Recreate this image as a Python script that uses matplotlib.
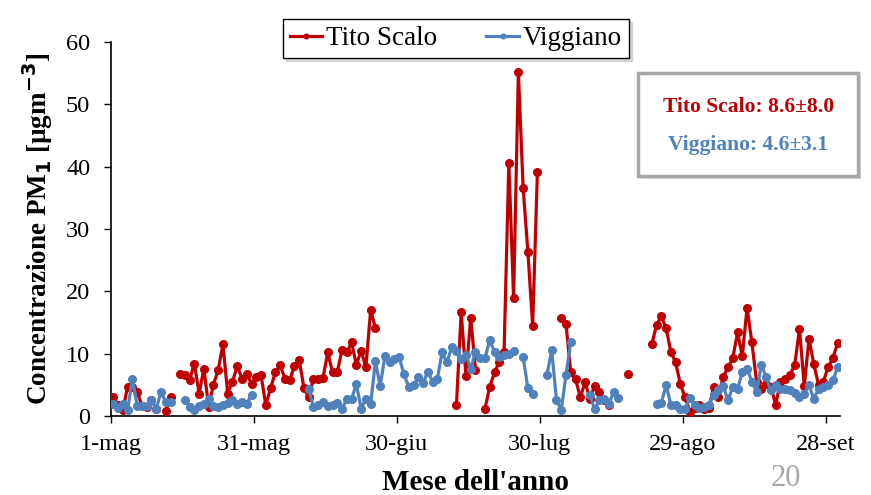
import numpy as np
import matplotlib
matplotlib.use("Agg")
import matplotlib.pyplot as plt
from matplotlib.patches import Rectangle

nan = np.nan

# daily PM1 values, 1-mag .. 30-set (153 days)
tito_scalo = [
    3.0, 1.8, 1.0, 4.7, 4.6, 3.9, 1.6, 1.5, 2.6, 1.1,
    nan, 0.8, 3.0, nan, 6.8, 6.6, 5.8, 8.4, 3.6, 7.6,
    1.5, 5.0, 7.4, 11.5, 3.6, 5.5, 8.0, 6.0, 6.8, 5.1,
    6.2, 6.5, 1.7, 4.5, 7.0, 8.2, 6.0, 5.8, 8.0, 9.0,
    4.5, 3.0, 6.0, 6.0, 6.1, 10.2, 7.0, 7.1, 10.6, 10.2,
    11.8, 8.2, 10.5, 7.8, 17.0, 14.1, nan, nan, nan, nan,
    nan, nan, nan, nan, nan, nan, nan, nan, nan, nan,
    nan, nan, 1.7, 16.7, 6.4, 15.8, 7.4, nan, 1.2, 4.7,
    7.0, 8.7, 10.3, 40.6, 18.9, 55.2, 36.6, 26.3, 14.5, 39.2,
    nan, nan, nan, nan, 15.8, 14.7, 7.0, 5.9, 3.0, 5.4,
    2.8, 4.8, 3.9, 2.5, 1.7, nan, nan, nan, 6.8, nan,
    nan, nan, nan, 11.5, 14.6, 16.0, 14.1, 10.3, 8.6, 5.1,
    3.0, 0.7, 1.3, 1.8, 1.2, 1.3, 4.7, 3.0, 6.3, 7.8,
    9.3, 13.4, 9.6, 17.4, 11.8, 5.5, 4.4, 5.2, 4.7, 1.8,
    5.5, 6.0, 6.6, 8.2, 14.0, 4.8, 12.4, 8.3, 5.0, 5.5,
    7.8, 9.3, 11.7,
]

viggiano = [
    2.0, 1.3, 2.0, 1.0, 6.0, 1.6, 1.6, 1.6, 2.6, 1.1,
    3.9, 2.2, 2.2, nan, nan, 2.6, 1.5, 1.0, 1.6, 1.9,
    2.7, 1.6, 1.4, 1.8, 2.1, 2.6, 1.9, 2.3, 2.0, 3.4,
    nan, nan, nan, nan, nan, nan, nan, nan, nan, nan,
    nan, 4.3, 1.5, 1.8, 2.3, 1.6, 1.8, 2.1, 1.2, 2.7,
    2.8, 5.1, 1.2, 2.7, 1.9, 8.8, 4.8, 9.6, 8.7, 9.2,
    9.4, 6.7, 4.6, 4.9, 6.2, 5.3, 7.1, 5.5, 6.0, 10.2,
    8.6, 11.0, 10.5, 9.1, 9.8, 7.5, 10.3, 9.3, 9.3, 12.2,
    10.2, 9.4, 9.8, 9.9, 10.5, nan, 9.4, 4.5, 3.5, nan,
    nan, 6.6, 10.6, 2.5, 1.0, 6.6, 11.9, nan, nan, nan,
    3.4, 1.1, 2.5, 2.7, 1.9, 3.9, 2.9, nan, nan, nan,
    nan, nan, nan, nan, 2.0, 2.1, 5.0, 1.8, 1.7, 1.2,
    1.1, 2.9, 1.8, 1.3, 1.4, 1.8, 3.4, 4.2, 4.8, 2.5,
    4.7, 4.4, 7.0, 7.6, 5.5, 3.9, 8.2, 6.2, 4.1, 5.0,
    4.4, 4.3, 4.1, 3.7, 3.1, 3.6, 5.0, 2.7, 4.4, 4.6,
    5.0, 5.7, 7.8,
]

tick_days = [0, 30, 60, 90, 120, 150]
tick_labels = ["1-mag", "31-mag", "30-giu", "30-lug", "29-ago", "28-set"]

stats_lines = ["Tito Scalo: 8.6\u00b18.0", "Viggiano: 4.6\u00b13.1"]

RED = "#C00000"
BLUE = "#4F81BD"

plt.rcParams["font.family"] = ["Liberation Serif", "DejaVu Serif"]

fig = plt.figure(figsize=(8.71, 4.95), dpi=100)
ax = fig.add_axes([0.1274, 0.1596, 0.837, 0.7556])

# points sit in the middle of each day slot
days = np.arange(len(tito_scalo)) + 0.5
ax.plot(days, tito_scalo, color=RED, lw=2.3, marker="o", ms=5.5,
        label="Tito Scalo", zorder=3)
ax.plot(days, viggiano, color=BLUE, lw=2.3, marker="o", ms=5.5,
        label="Viggiano", zorder=4)

ax.set_xlim(0, 153)
ax.set_ylim(0, 60)
ax.set_xticks(tick_days)
ax.set_xticklabels(tick_labels)
ax.set_yticks(range(0, 61, 10))
ax.tick_params(axis="both", labelsize=17.5, direction="out", length=5,
               width=1, color="black")
ax.tick_params(axis="x", pad=8)
ax.tick_params(axis="y", pad=10)
for s in ["top", "right"]:
    ax.spines[s].set_visible(False)
for s in ["left", "bottom"]:
    ax.spines[s].set_linewidth(1.2)

ax.set_ylabel("Concentrazione PM$_\\mathbf{1}$ [\u00b5gm$^{\\mathbf{-3}}$]",
              fontsize=19.5, fontweight="bold", labelpad=8)
ax.set_xlabel("Mese dell'anno", fontsize=21, fontweight="bold", labelpad=10)

leg = fig.legend(loc="upper center", bbox_to_anchor=(0.5235, 0.988), ncol=2,
                 fontsize=19.5, frameon=True, fancybox=False, edgecolor="black",
                 handlelength=1.2, handletextpad=0.15, columnspacing=1.8,
                 borderpad=0.25, markerscale=0.6,
                 shadow={"color": "0.75", "alpha": 0.6, "ox": 2, "oy": -2})
leg.get_frame().set_linewidth(1.0)

# stats box, top right
shadow = Rectangle((0.736, 0.638), 0.252, 0.208, transform=fig.transFigure,
                   facecolor="#d9d9d9", edgecolor="none", zorder=5)
box = Rectangle((0.733, 0.645), 0.252, 0.208, transform=fig.transFigure,
                facecolor="white", edgecolor="#a6a6a6", lw=2.5, zorder=6)
fig.patches.extend([shadow, box])
fig.text(0.859, 0.783, stats_lines[0], color=RED, fontsize=15.5,
         fontweight="bold", ha="center", va="center", zorder=7)
fig.text(0.859, 0.707, stats_lines[1], color=BLUE, fontsize=15.5,
         fontweight="bold", ha="center", va="center", zorder=7)

fig.text(0.885, 0.018, "20", color="#a6a6a6", fontsize=22)

fig.savefig("out.png", dpi=100)
